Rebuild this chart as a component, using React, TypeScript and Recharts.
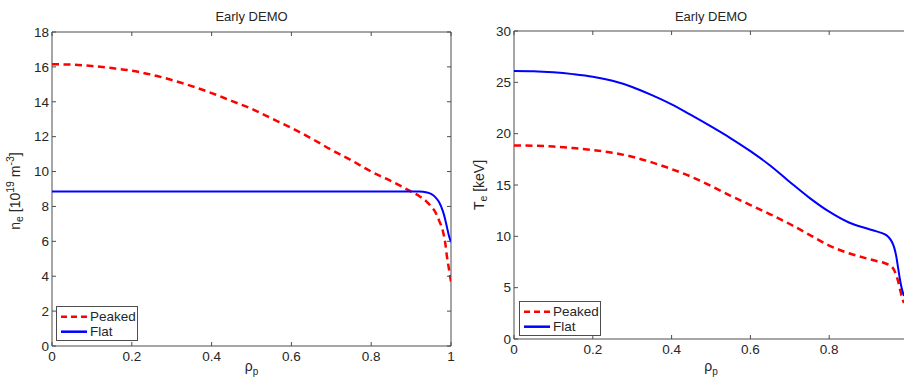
import React from 'react';
import { LineChart, Line, XAxis, YAxis, ReferenceArea, Legend } from 'recharts';

// ---------- data ----------
const titleText = 'Early DEMO';
const seriesNames = ['Peaked', 'Flat'];

const rhoNe = [0, 0.05, 0.1, 0.15, 0.2, 0.25, 0.3, 0.35, 0.4, 0.45, 0.5, 0.55, 0.6, 0.65, 0.7, 0.75, 0.8, 0.85, 0.88, 0.9, 0.92, 0.94, 0.95, 0.96, 0.97, 0.98, 0.985, 0.99, 0.995, 1.0];
const nePeaked = [16.15, 16.13, 16.05, 15.93, 15.78, 15.55, 15.25, 14.9, 14.5, 14.05, 13.6, 13.05, 12.5, 11.9, 11.25, 10.65, 10.0, 9.45, 9.1, 8.85, 8.6, 8.25, 8.0, 7.7, 7.2, 6.55, 6.0, 5.1, 4.4, 3.7];
const neFlat = [8.85, 8.85, 8.85, 8.85, 8.85, 8.85, 8.85, 8.85, 8.85, 8.85, 8.85, 8.85, 8.85, 8.85, 8.85, 8.85, 8.85, 8.85, 8.85, 8.85, 8.85, 8.8, 8.72, 8.55, 8.25, 7.7, 7.3, 6.8, 6.3, 5.95];

const rhoTe = [0, 0.05, 0.1, 0.15, 0.2, 0.25, 0.3, 0.35, 0.4, 0.45, 0.5, 0.55, 0.6, 0.65, 0.7, 0.75, 0.8, 0.85, 0.9, 0.92, 0.94, 0.95, 0.96, 0.965, 0.97, 0.975, 0.98, 0.985, 0.99];
const tePeaked = [18.85, 18.83, 18.75, 18.6, 18.4, 18.15, 17.75, 17.2, 16.55, 15.8, 14.9, 13.95, 13.05, 12.15, 11.2, 10.15, 9.1, 8.35, 7.8, 7.6, 7.4, 7.25, 7.0, 6.7, 6.2, 5.6, 4.8, 4.0, 3.5];
const teFlat = [26.1, 26.08, 25.98, 25.8, 25.55, 25.15, 24.55, 23.75, 22.85, 21.8, 20.7, 19.55, 18.3, 16.9, 15.3, 13.75, 12.4, 11.35, 10.72, 10.48, 10.22, 9.95, 9.4, 8.9, 8.1, 6.9, 5.7, 4.8, 4.2];

const xTicks = [0, 0.2, 0.4, 0.6, 0.8, 1];
const xTicksRight = [0, 0.2, 0.4, 0.6, 0.8];
const neTicks = [0, 2, 4, 6, 8, 10, 12, 14, 16, 18];
const teTicks = [0, 5, 10, 15, 20, 25, 30];

const neData = rhoNe.map((r, i) => ({ r, peaked: nePeaked[i], flat: neFlat[i] }));
const teData = rhoTe.map((r, i) => ({ r, peaked: tePeaked[i], flat: teFlat[i] }));

// ---------- style ----------
const FONT = '"Liberation Sans", Arial, Helvetica, sans-serif';
const AXIS = '#4d4d4d';
const TXT = '#262626';
const RED = '#ff0000';
const BLUE = '#0000ff';
const TICK_FS = 13.5;

type Layout = { left: number; top: number; width: number; height: number; chartW: number; chartH: number };

const makeXTick = (L: Layout) => (props: any) => {
  const { x, payload } = props;
  const bottom = L.top + L.height;
  return (
    <g>
      <line x1={x} x2={x} y1={bottom} y2={bottom - 4} stroke={AXIS} strokeWidth={1} />
      <line x1={x} x2={x} y1={L.top} y2={L.top + 4} stroke={AXIS} strokeWidth={1} />
      <text x={x} y={bottom + 15} textAnchor="middle" fontFamily={FONT} fontSize={TICK_FS} fill={TXT}>
        {String(payload.value)}
      </text>
    </g>
  );
};

const makeYTick = (L: Layout) => (props: any) => {
  const { y, payload } = props;
  const right = L.left + L.width;
  return (
    <g>
      <line x1={L.left} x2={L.left + 4} y1={y} y2={y} stroke={AXIS} strokeWidth={1} />
      <line x1={right} x2={right - 4} y1={y} y2={y} stroke={AXIS} strokeWidth={1} />
      <text x={L.left - 3} y={y + 4.8} textAnchor="end" fontFamily={FONT} fontSize={TICK_FS} fill={TXT}>
        {String(payload.value)}
      </text>
    </g>
  );
};

const LegendBox = ({ w, h }: { w: number; h: number }) => (
  <svg width={w} height={h} style={{ display: 'block' }}>
    <rect x={0.5} y={0.5} width={w - 1} height={h - 1} fill="#fff" stroke={AXIS} strokeWidth={1} />
    <line x1={5} x2={31} y1={10.7} y2={10.7} stroke={RED} strokeWidth={2.5} strokeDasharray="6 4" />
    <text x={34} y={15.3} fontFamily={FONT} fontSize={TICK_FS} fill={TXT}>{seriesNames[0]}</text>
    <line x1={5} x2={31} y1={25.7} y2={25.7} stroke={BLUE} strokeWidth={2.5} />
    <text x={34} y={30.3} fontFamily={FONT} fontSize={TICK_FS} fill={TXT}>{seriesNames[1]}</text>
  </svg>
);

type PanelProps = {
  L: Layout;
  data: any[];
  xDomain: [number, number];
  xTickList: number[];
  yDomain: [number, number];
  yTicks: number[];
  yLabel: (L: Layout) => React.ReactNode;
  legendPos: { left: number; top: number };
};

const Panel = ({ L, data, xDomain, xTickList, yDomain, yTicks, yLabel, legendPos }: PanelProps) => {
  const plotCx = L.left + Math.min(L.width, 399) / 2;
  return (
    <LineChart
      width={L.chartW}
      height={L.chartH}
      data={data}
      margin={{ top: L.top, left: L.left - 1, right: L.chartW - L.left - L.width, bottom: L.chartH - L.top - L.height - 1 }}
    >
      <XAxis
        dataKey="r"
        type="number"
        domain={xDomain}
        ticks={xTickList}
        allowDataOverflow
        height={1}
        axisLine={false}
        tickLine={false}
        tick={makeXTick(L)}
        label={{
          content: () => (
            <g>
              <text x={plotCx} y={20.5} textAnchor="middle" fontFamily={FONT} fontSize={13} fill={TXT}>{titleText}</text>
              <text x={plotCx} y={370.5} textAnchor="middle" fontFamily={FONT} fontSize={14} fill={TXT}>
                ρ<tspan fontSize={10} dy={4}>p</tspan>
              </text>
            </g>
          ),
        }}
      />
      <YAxis
        type="number"
        domain={yDomain}
        ticks={yTicks}
        allowDataOverflow
        width={1}
        axisLine={false}
        tickLine={false}
        tick={makeYTick(L)}
        label={{ content: () => yLabel(L) }}
      />
      <ReferenceArea x1={xDomain[0]} x2={xDomain[1]} y1={yDomain[0]} y2={yDomain[1]} fill="none" fillOpacity={0} stroke={AXIS} strokeWidth={1} ifOverflow="visible" />
      <Line
        type="monotone"
        dataKey="peaked"
        name={seriesNames[0]}
        stroke={RED}
        strokeWidth={2.5}
        strokeDasharray="7 4.5"
        dot={false}
        activeDot={false}
        isAnimationActive={false}
      />
      <Line
        type="monotone"
        dataKey="flat"
        name={seriesNames[1]}
        stroke={BLUE}
        strokeWidth={2}
        dot={false}
        activeDot={false}
        isAnimationActive={false}
      />
      <Legend
        layout="vertical"
        align="center"
        verticalAlign="middle"
        wrapperStyle={{ left: legendPos.left, top: legendPos.top, width: 82, height: 35, bottom: 'auto', right: 'auto' }}
        content={() => <LegendBox w={82} h={35} />}
      />
    </LineChart>
  );
};

const leftL: Layout = { left: 52, top: 32, width: 399, height: 314, chartW: 460, chartH: 378 };
const rightL: Layout = { left: 54, top: 31, width: 394, height: 308, chartW: 458, chartH: 378 };

export default function App() {
  return (
    <div style={{ position: 'absolute', left: 0, top: 0, width: 904, height: 378, overflow: 'hidden', background: '#fff', fontFamily: FONT }}>
      <div style={{ position: 'absolute', left: 0, top: 0 }}>
        <Panel
          L={leftL}
          data={neData}
          xDomain={[0, 1]}
          xTickList={xTicks}
          yDomain={[0, 18]}
          yTicks={neTicks}
          legendPos={{ left: 56, top: 306 }}
          yLabel={() => (
            <text x={19.5} y={191} transform="rotate(-90 19.5 191)" textAnchor="middle" fontFamily={FONT} fontSize={14} fill={TXT}>
              n<tspan fontSize={10.5} dy={3}>e</tspan>
              <tspan dy={-3}> [10</tspan>
              <tspan fontSize={10.5} dy={-6}>19</tspan>
              <tspan dy={6}> m</tspan>
              <tspan fontSize={10.5} dy={-6}>-3</tspan>
              <tspan dy={6}>]</tspan>
            </text>
          )}
        />
      </div>
      <div style={{ position: 'absolute', left: 460, top: 0 }}>
        <Panel
          L={rightL}
          data={teData}
          xDomain={[0, 1]}
          xTickList={xTicksRight}
          yDomain={[0, 30]}
          yTicks={teTicks}
          legendPos={{ left: 59, top: 301 }}
          yLabel={() => (
            <text x={23.5} y={185} transform="rotate(-90 23.5 185)" textAnchor="middle" fontFamily={FONT} fontSize={14} fill={TXT}>
              T<tspan fontSize={10.5} dy={3}>e</tspan>
              <tspan dy={-3}> [keV]</tspan>
            </text>
          )}
        />
      </div>
    </div>
  );
}
